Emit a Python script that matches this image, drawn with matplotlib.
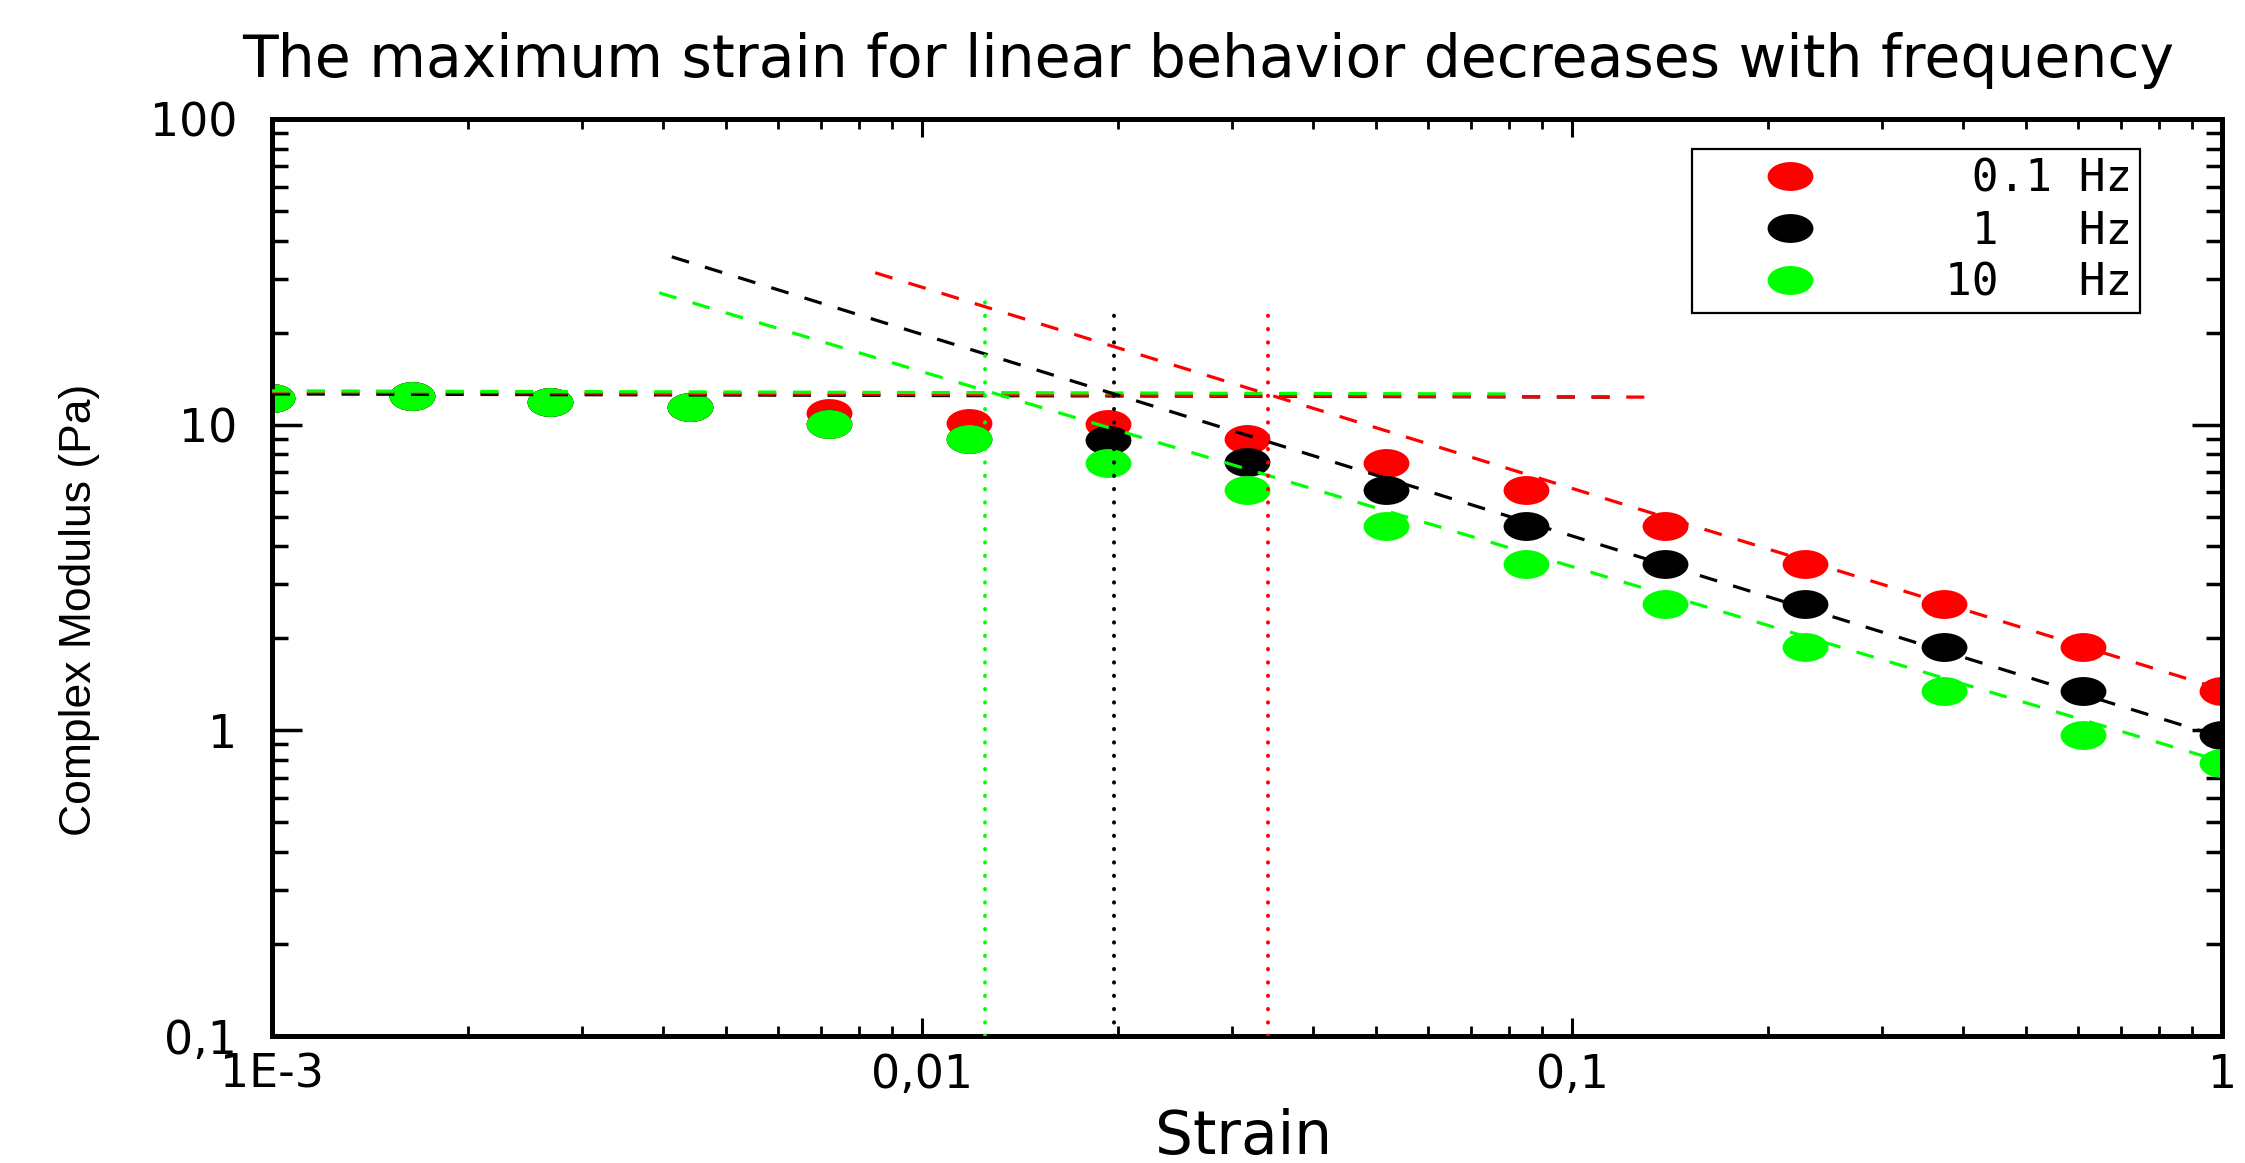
"""
 Complex modulus vs strain at three frequencies (strain sweep)
"""
import numpy as np
import matplotlib
matplotlib.use('Agg')
import matplotlib.pyplot as plt
from matplotlib.path import Path
from matplotlib.lines import Line2D
from matplotlib.ticker import FixedLocator, LogLocator, NullFormatter

strain = [0.001, 0.00164, 0.00268, 0.00439, 0.0072, 0.0118, 0.0193, 0.0316,
          0.0518, 0.0848, 0.139, 0.228, 0.373, 0.611, 1.0]
mod_01hz = [12.2, 12.4, 11.9, 11.4, 10.9, 10.1, 10.05, 8.98,
            7.50, 6.11, 4.67, 3.50, 2.59, 1.88, 1.34]
mod_1hz = [12.2, 12.4, 11.9, 11.4, 10.05, 8.98, 8.92, 7.55,
           6.11, 4.67, 3.50, 2.59, 1.88, 1.34, 0.966]
mod_10hz = [12.2, 12.4, 11.9, 11.4, 10.05, 8.98, 7.50, 6.11,
            4.67, 3.50, 2.59, 1.88, 1.34, 0.966, 0.78]

# plateau lines (linear region)
plat_x_01hz = [0.001, 0.135]
plat_y_01hz = [12.8, 12.3]
plat_x_1hz = [0.001, 0.119]
plat_y_1hz = [12.6, 12.3]
plat_x_10hz = [0.001, 0.0805]
plat_y_10hz = [12.9, 12.6]

# power law lines (non linear region)
fit_x_01hz = [0.00847, 1.0]
fit_y_01hz = [31.4, 1.36]
fit_x_1hz = [0.00412, 0.95]
fit_y_1hz = [35.4, 0.98]
fit_x_10hz = [0.00394, 1.0]
fit_y_10hz = [27.0, 0.79]

# critical strain markers
crit_x = [0.0340, 0.0197, 0.0125]
crit_top = [25.0, 24.5, 26.8]

colors = ['#ff0000', '#000000', '#00ff00']
legend_labels = [' 0.1 Hz', ' 1   Hz', '10   Hz']

x_ticks = [0.001, 0.01, 0.1, 1]
x_tick_labels = ['1E-3', '0,01', '0,1', '1']
y_ticks = [0.1, 1, 10, 100]
y_tick_labels = ['0,1', '1', '10', '100']
x_lim = (0.001, 1.0)
y_lim = (0.1, 100.0)

TITLE = "The maximum strain for linear behavior decreases with frequency"


def ellipse_marker(ratio):
    """flat ellipse used as marker"""
    circ = Path.unit_circle()
    return Path(circ.vertices * np.array([1.0, ratio]), circ.codes)


plt.rcParams['font.family'] = 'DejaVu Sans'
plt.rcParams['lines.scale_dashes'] = False

ell = ellipse_marker(0.63)
series = [mod_01hz, mod_1hz, mod_10hz]
plats = [(plat_x_01hz, plat_y_01hz), (plat_x_1hz, plat_y_1hz), (plat_x_10hz, plat_y_10hz)]
fits = [(fit_x_01hz, fit_y_01hz), (fit_x_1hz, fit_y_1hz), (fit_x_10hz, fit_y_10hz)]

fig = plt.figure(figsize=(22.45, 11.63), dpi=100)
ax = fig.add_axes([0.1212, 0.1092, 0.8686, 0.7885])
ax.set_xscale('log')
ax.set_yscale('log')

for y, c in zip(series, colors):
    ax.plot(strain, y, linestyle='none', marker=ell, markersize=33,
            color=c, markeredgewidth=0, zorder=2)

# black plateau goes under the red one
for i in [1, 0, 2]:
    px, py = plats[i]
    ax.plot(px, py, color=colors[i], lw=2.3, dashes=(13, 12), zorder=3)

for (fx, fy), c in zip(fits, colors):
    ax.plot(fx, fy, color=c, lw=2.3, dashes=(13, 12), zorder=3)

for xc, top, c in zip(crit_x, crit_top, colors):
    ax.plot([xc, xc], [y_lim[0], top], color=c, lw=2.8, dashes=(0.3, 9.3),
            dash_capstyle='round', zorder=3)

ax.set_xlim(*x_lim)
ax.set_ylim(*y_lim)

ax.xaxis.set_major_locator(FixedLocator(x_ticks))
ax.set_xticklabels(x_tick_labels)
ax.yaxis.set_major_locator(FixedLocator(y_ticks))
ax.set_yticklabels(y_tick_labels)
ax.xaxis.set_minor_locator(LogLocator(base=10, subs=range(2, 10)))
ax.yaxis.set_minor_locator(LogLocator(base=10, subs=range(2, 10)))
ax.xaxis.set_minor_formatter(NullFormatter())
ax.yaxis.set_minor_formatter(NullFormatter())

ax.tick_params(which='both', direction='in', top=True, right=True)
ax.tick_params(axis='x', which='major', length=13, width=2.2, pad=12, labelsize=33)
ax.tick_params(axis='x', which='minor', length=7, width=2.0)
ax.tick_params(axis='y', which='major', length=21.6, width=2.5, pad=25, labelsize=33)
ax.tick_params(axis='y', which='minor', length=11.5, width=2.5)

for spine in ax.spines.values():
    spine.set_linewidth(3.6)

ax.set_xlabel('Strain', fontsize=43, va='center')
ax.xaxis.set_label_coords(0.498, -0.111)
ax.set_ylabel('Complex Modulus (Pa)', fontsize=32, va='center',
              family='Liberation Sans')
ax.yaxis.set_label_coords(-0.099, 0.465)

fig.text(0.538, 0.948, TITLE, ha='center', va='center', fontsize=42)

handles = [Line2D([], [], linestyle='none', marker=ell, markersize=33,
                  color=c, markeredgewidth=0) for c in colors]
leg = ax.legend(handles, legend_labels, loc='upper right',
                bbox_to_anchor=(0.958, 0.967), borderaxespad=0,
                prop={'family': 'DejaVu Sans Mono', 'size': 32},
                frameon=True, fancybox=False, edgecolor='black', framealpha=1,
                borderpad=0.19, labelspacing=0.2, handlelength=4.05,
                handletextpad=1.45)
leg.get_frame().set_linewidth(1.6)

fig.savefig('out.png', dpi=100)
